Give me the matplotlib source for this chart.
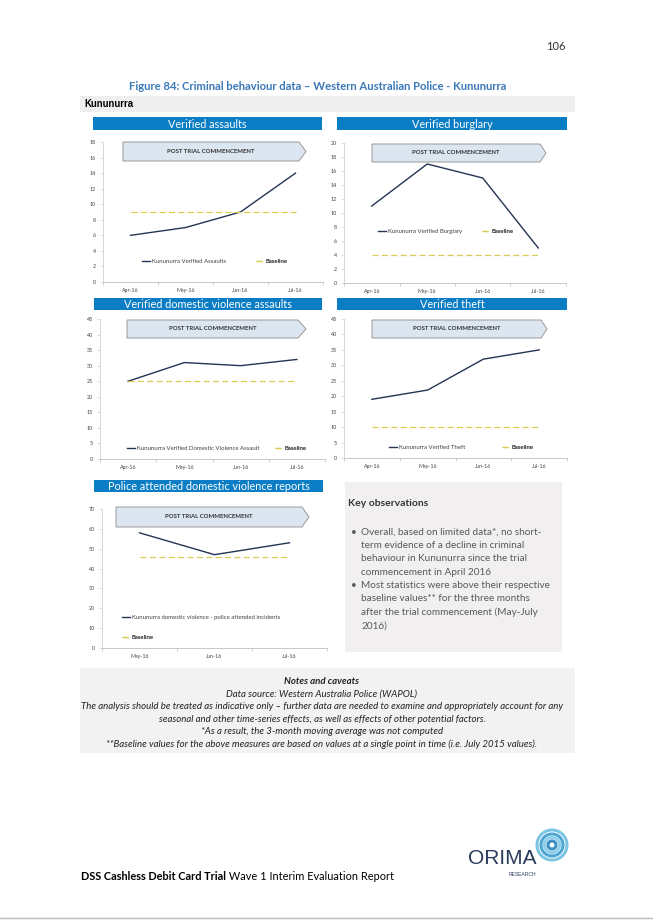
import matplotlib
matplotlib.use('Agg')
import matplotlib.pyplot as plt
from matplotlib.patches import Polygon, Rectangle, Circle

#---------------------------------------------
'''DATA'''
#---------------------------------------------
months_4 = ['Apr-16', 'May-16', 'Jun-16', 'Jul-16']
months_3 = ['May-16', 'Jun-16', 'Jul-16']

assaults = [6, 7, 9, 14]
assaults_base = 9
burglary = [11, 17, 15, 5]
burglary_base = 4
dv_assaults = [25, 31, 30, 32]
dv_assaults_base = 25
theft = [19, 22, 32, 35]
theft_base = 10
police_dv = [58, 47, 53]
police_dv_base = 46

titles = ['Verified assaults', 'Verified burglary', 'Verified domestic violence assaults',
          'Verified theft', 'Police attended domestic violence reports']
series_labels = ['Kununurra Verified Assaults', 'Kununurra Verified Burglary',
                 'Kununurra Verified Domestic Violence Assault', 'Kununurra Verified Theft',
                 'Kununurra domestic violence - police attended incidents']

bullets = [["Overall, based on limited data*, no short-",
            "term evidence of a decline in criminal",
            "behaviour in Kununurra since the trial",
            "commencement in April 2016"],
           ["Most statistics were above their respective",
            "baseline values** for the three months",
            "after the trial commencement (May-July",
            "2016)"]]
notes = ["Data source: Western Australia Police (WAPOL)",
         "The analysis should be treated as indicative only \u2013 further data are needed to examine and appropriately account for any",
         "seasonal and other time-series effects, as well as effects of other potential factors.",
         "*As a result, the 3-month moving average was not computed",
         "**Baseline values for the above measures are based on values at a single point in time (i.e. July 2015 values)."]

#---------------------------------------------
'''PAGE SETUP'''
#---------------------------------------------
W, H = 653, 923
FONT = 'Lato'
LINE_C = '#243452'
BASE_C = '#d8cc55'
BAR_C = '#0b7dc4'
TICK_C = '#404040'

fig = plt.figure(figsize=(W / 100, H / 100), dpi=100)
fig.patch.set_facecolor('white')

# page overlay in pixel coordinates
page = fig.add_axes([0, 0, 1, 1], zorder=5)
page.set_xlim(0, W)
page.set_ylim(H, 0)
page.axis('off')
page.patch.set_alpha(0)


def chart_ax(l, t, r, b):
    return fig.add_axes([l / W, 1 - b / H, (r - l) / W, (b - t) / H])


def title_bar(x0, x1, y0, y1, text):
    page.add_patch(Rectangle((x0, y0), x1 - x0, y1 - y0, fc=BAR_C, ec='none'))
    page.text((x0 + x1) / 2, (y0 + y1) / 2 + 0.5, text, color='white', fontsize=7.8,
              family=FONT, ha='center', va='center')


def post_arrow(x0, xb, xt, y0, y1):
    pts = [(x0, y0), (xb, y0), (xt, (y0 + y1) / 2), (xb, y1), (x0, y1)]
    page.add_patch(Polygon(pts, closed=True, fc='#dce6f1', ec='#8c8c8c', lw=0.6))
    page.text((x0 + xb) / 2, (y0 + y1) / 2, 'POST TRIAL COMMENCEMENT', fontsize=4.3,
              fontweight='bold', family=FONT, color='#333333', ha='center', va='center')


def style_ax(ax, cats, ymax, ystep, xlim):
    ax.set_facecolor('none')
    ax.set_xlim(*xlim)
    ax.set_ylim(0, ymax)
    ax.set_yticks(range(0, ymax + 1, ystep))
    ax.set_xticks(range(len(cats)))
    ax.set_xticklabels(cats)
    ax.set_xticks([i - 0.5 for i in range(len(cats) + 1)], minor=True)
    for s in ['top', 'right']:
        ax.spines[s].set_visible(False)
    ax.spines['left'].set_color('#d0d0d0')
    ax.spines['bottom'].set_color('#bfbfbf')
    ax.spines['left'].set_linewidth(0.6)
    ax.spines['bottom'].set_linewidth(0.6)
    ax.tick_params(axis='x', which='major', length=0, pad=4, labelsize=3.8, labelcolor=TICK_C)
    ax.tick_params(axis='x', which='minor', length=2, width=0.5, color='#bfbfbf')
    ax.tick_params(axis='y', length=2, width=0.5, color='#d0d0d0', pad=3,
                   labelsize=3.8, labelcolor=TICK_C)
    for lab in ax.get_xticklabels() + ax.get_yticklabels():
        lab.set_family(FONT)


def draw_chart(ax, cats, values, base, label, legend_pos):
    x = range(len(cats))
    ln, = ax.plot(x, values, color=LINE_C, lw=1.0, solid_joinstyle='miter')
    bl, = ax.plot(x, [base] * len(cats), color=BASE_C, lw=0.9, ls=(0, (5, 2.5)))
    legend_props = {'size': 4.3, 'family': FONT, 'weight': 'normal'}
    for handle, text, (lx, ly) in zip([ln, bl], [label, 'Baseline'], legend_pos):
        leg = ax.legend([handle], [text], loc='center left', bbox_to_anchor=(lx, ly),
                        bbox_transform=page.transData, frameon=False, prop=legend_props,
                        handlelength=1.35, handletextpad=0.3, borderpad=0, borderaxespad=0)
        for t in leg.get_texts():
            t.set_color(TICK_C)
        ax.add_artist(leg)


#---------------------------------------------
'''HEADER'''
#---------------------------------------------
page.text(566, 47, '106', fontsize=8, family=FONT, color='#333333', ha='right', va='center')
page.text(318, 87, 'Figure 84: Criminal behaviour data \u2013 Western Australian Police - Kununurra',
          fontsize=8.1, fontweight='bold', family=FONT, color='#3a78b8', ha='center', va='center')
page.add_patch(Rectangle((80, 96), 495, 16, fc='#efefef', ec='none'))
page.text(84, 104, 'Kununurra', fontsize=6.9, fontweight='bold', family='Liberation Sans',
          color='black', ha='left', va='center')

#---------------------------------------------
'''CHARTS'''
#---------------------------------------------
# Verified assaults
ax1 = chart_ax(103, 142, 323, 282)
style_ax(ax1, months_4, 18, 2, (-0.5, 3.5))
draw_chart(ax1, months_4, assaults, assaults_base, series_labels[0], [(142, 261), (256, 261)])
title_bar(93, 322, 117, 130, titles[0])
post_arrow(123, 299, 306, 142, 161)

# Verified burglary
ax2 = chart_ax(344, 143, 566, 283)
style_ax(ax2, months_4, 20, 2, (-0.5, 3.5))
draw_chart(ax2, months_4, burglary, burglary_base, series_labels[1], [(378, 231), (482, 231)])
title_bar(337, 567, 117, 130, titles[1])
post_arrow(372, 540, 546, 144, 162)

# Verified domestic violence assaults
ax3 = chart_ax(100, 319, 325, 459)
style_ax(ax3, months_4, 45, 5, (-0.5, 3.5))
draw_chart(ax3, months_4, dv_assaults, dv_assaults_base, series_labels[2], [(127, 448), (275, 448)])
title_bar(94, 322, 298, 310, titles[2])
post_arrow(127, 298, 306, 320, 338)

# Verified theft
ax4 = chart_ax(344, 319, 567, 458)
style_ax(ax4, months_4, 45, 5, (-0.5, 3.5))
draw_chart(ax4, months_4, theft, theft_base, series_labels[3], [(389, 447), (502, 447)])
title_bar(337, 567, 298, 310, titles[3])
post_arrow(372, 541, 547, 320, 338)

# Police attended domestic violence reports
ax5 = chart_ax(102, 509, 327, 648)
style_ax(ax5, months_3, 70, 10, (-0.45, 2.48))
draw_chart(ax5, months_3, police_dv, police_dv_base, series_labels[4], [(122, 617), (122, 637)])
title_bar(94, 323, 480, 492, titles[4])
post_arrow(116, 302, 309, 507, 527)

#---------------------------------------------
'''KEY OBSERVATIONS'''
#---------------------------------------------
page.add_patch(Rectangle((345, 482), 217, 170, fc='#f2eff1', ec='none'))
page.text(348, 503, 'Key observations', fontsize=7.5, fontweight='bold', family=FONT,
          color='#333333', ha='left', va='center')
yy = 532
for para in bullets:
    page.text(351, yy, '\u2022', fontsize=7.2, family=FONT, color='#595959', ha='left', va='center')
    for line in para:
        page.text(361, yy, line, fontsize=7.2, family=FONT, color='#595959', ha='left', va='center')
        yy += 13.4

#---------------------------------------------
'''NOTES'''
#---------------------------------------------
page.add_patch(Rectangle((80, 668), 495, 85, fc='#f2f2f2', ec='none'))
page.text(322, 681, 'Notes and caveats', fontsize=6.9, fontweight='bold', style='italic',
          family=FONT, color='#222222', ha='center', va='center')
for i, line in enumerate(notes):
    page.text(322, 694 + i * 12.6, line, fontsize=6.9, style='italic', family=FONT,
              color='#222222', ha='center', va='center')

#---------------------------------------------
'''FOOTER'''
#---------------------------------------------
t = page.text(81, 877, 'DSS Cashless Debit Card Trial', fontsize=7.9, fontweight='bold',
              family=FONT, color='black', ha='left', va='center')
page.annotate(' Wave 1 Interim Evaluation Report', xy=(1, 0.5), xycoords=t, fontsize=7.9,
              family=FONT, color='black', ha='left', va='center')

# logo
for r, c in [(15, '#7cc5e3'), (11, '#4aa6d2'), (7.5, '#8fd0ea'), (4, '#3d8fc2')]:
    page.add_patch(Circle((552, 845), r, fc='none', ec=c, lw=2.2))
page.text(502, 859, 'ORIMA', fontsize=15, family='Liberation Sans', color='#2b3b5b',
          ha='center', va='center')
page.text(522, 874, 'RESEARCH', fontsize=3.6, family='Liberation Sans', color='#2b3b5b',
          ha='center', va='center')
page.plot([0, W], [918, 918], color='#bbbbbb', lw=1)

plt.savefig('out.png', dpi=100)
